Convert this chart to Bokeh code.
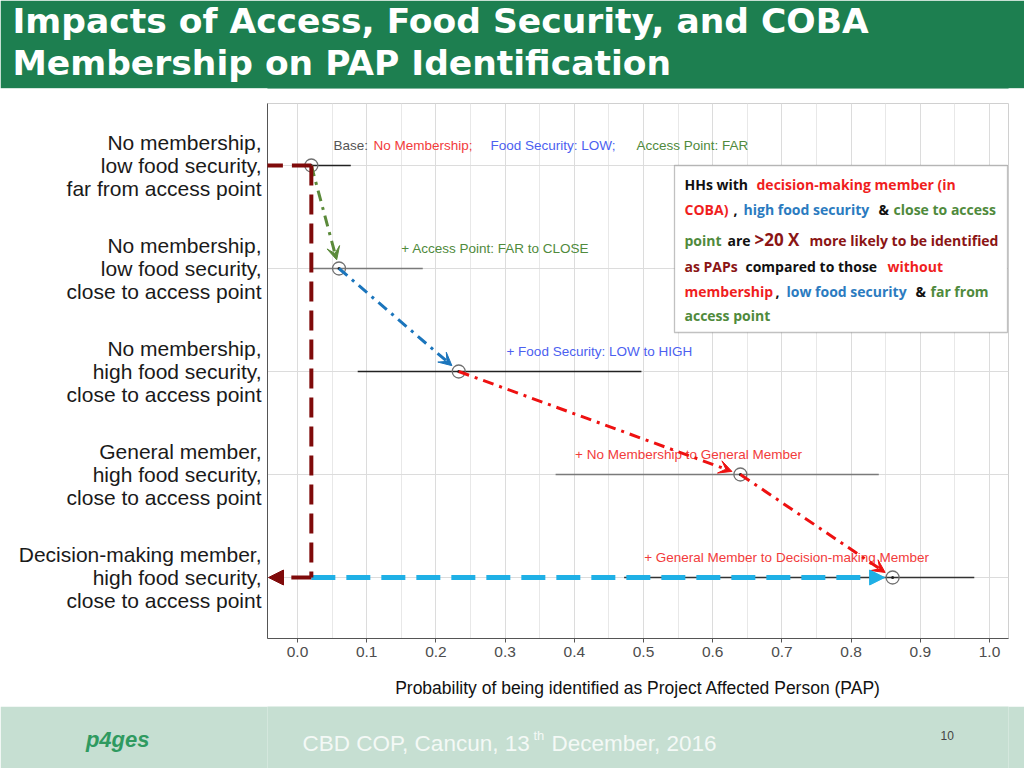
from math import hypot
from bokeh.plotting import figure
from bokeh.layouts import column
from bokeh.models import (Range1d, FixedTicker, Arrow, VeeHead, NormalHead, Title,
                          BoxAnnotation, Label, NumeralTickFormatter)
from bokeh.core.properties import value
from bokeh.embed import file_html
from bokeh.resources import INLINE

# ---------------- data ----------------
categories = [
    "No membership,\nlow food security,\nfar from access point",
    "No membership,\nlow food security,\nclose to access point",
    "No membership,\nhigh food security,\nclose to access point",
    "General member,\nhigh food security,\nclose to access point",
    "Decision-making member,\nhigh food security,\nclose to access point",
]
prob = [0.020, 0.060, 0.233, 0.640, 0.860]
ci_low = [0.000, 0.022, 0.087, 0.373, 0.472]
ci_high = [0.077, 0.181, 0.497, 0.840, 0.978]
ci_colors = ["#222222", "#7a7a7a", "#222222", "#7a7a7a", "#333333"]

step_labels = ["+ Access Point: FAR to CLOSE", "+ Food Security: LOW to HIGH",
               "+ No Membership to General Member",
               "+ General Member to Decision-making Member"]
step_label_x = [0.150, 0.302, 0.401, 0.501]
step_text_colors = ["#4f8a3c", "#4c5ff0", "#f23b3b", "#f23b3b"]
step_arrow_colors = ["#5b8a3a", "#1b75bc", "#ee1111", "#ee1111"]

base_parts = ["Base:", "No Membership;", "Food Security: LOW;", "Access Point: FAR"]
base_colors = ["#555555", "#f23b3b", "#4c5ff0", "#4f8a3c"]

x_ticks = [0.0, 0.1, 0.2, 0.3, 0.4, 0.5, 0.6, 0.7, 0.8, 0.9, 1.0]
x_label = "Probability of being identified as Project Affected Person (PAP)"
base_arrow_left = -0.05

title_lines = ["Impacts of Access, Food Security, and COBA",
               "Membership on PAP Identification"]
footer_text = ["CBD COP, Cancun, 13", "th", "December, 2016"]
page_no = "10"
logo_text = "p4ges"

# ---------------- layout helpers (page pixel -> data) ----------------
W = 1024
BL_, BR_ = 267, 16          # shared left/right borders (frames are aligned in the column)
PX_PER_X = 692.0
PX_PER_Y = 103.0
def X(px):
    return (px - 297.0) / PX_PER_X
def Y(py):
    return 5.0 - (py - 165.0) / PX_PER_Y

n = len(categories)
ypos = [n - i for i in range(n)]

def deco_fig(h, y0, y1, col, yaxis=None):
    fg = figure(width=W, height=h, x_range=Range1d(BL_, W - BR_), y_range=Range1d(y1, y0),
                output_backend="svg", toolbar_location=None,
                min_border_left=BL_, min_border_right=BR_, min_border_top=0, min_border_bottom=0,
                x_axis_location=None, y_axis_location=yaxis,
                background_fill_color=col, border_fill_color=col, outline_line_color=None)
    fg.grid.visible = False
    return fg

# ---------------- title ----------------
GREEN = "#1d7f50"
t = deco_fig(88, 0, 88, GREEN)
t.add_layout(Title(text="\n".join(title_lines), align="left", offset=12 - BL_,
                   vertical_align="top", standoff=8, text_color="white",
                   text_font="DejaVu Sans", text_font_style="bold", text_font_size="34.5px",
                   text_line_height=1.05), "above")

# ---------------- main chart ----------------
p = figure(width=W, height=618,
           x_range=Range1d(X(267), X(1008)), y_range=Range1d(Y(638), Y(103)),
           output_backend="svg", toolbar_location=None,
           min_border_left=BL_, min_border_right=BR_, min_border_top=15, min_border_bottom=68,
           background_fill_color="white", border_fill_color="white")
p.outline_line_color = "#d0d0d0"

xt = FixedTicker(ticks=x_ticks,
                 minor_ticks=[(a + b) / 2 for a, b in zip(x_ticks, x_ticks[1:])])
p.xaxis.ticker = xt
p.xaxis.formatter = NumeralTickFormatter(format="0.0")
p.xaxis.major_label_text_font = "Liberation Sans"
p.xaxis.major_label_text_font_size = "15.5px"
p.xaxis.major_label_text_color = "#4d4d4d"
p.xaxis.major_tick_out = 4
p.xaxis.major_tick_in = 0
p.xaxis.minor_tick_out = 0
p.xaxis.minor_tick_in = 0
p.xaxis.major_tick_line_color = "#555555"
p.xaxis.major_label_standoff = 4
p.xaxis.axis_line_color = "#555555"
p.xaxis.axis_label = x_label
p.xaxis.axis_label_text_font = "Liberation Sans"
p.xaxis.axis_label_text_font_size = "17.5px"
p.xaxis.axis_label_text_font_style = "normal"
p.xaxis.axis_label_text_color = "#111111"
p.xaxis.axis_label_standoff = 18

p.yaxis.ticker = FixedTicker(ticks=ypos)
p.yaxis.major_label_overrides = {y: c for y, c in zip(ypos, categories)}
p.yaxis.major_label_text_font = "Liberation Sans"
p.yaxis.major_label_text_font_size = "21px"
p.yaxis.major_label_text_color = "#1a1a1a"
p.yaxis.major_label_text_line_height = 1.01
p.yaxis.major_tick_out = 0
p.yaxis.major_tick_in = 0
p.yaxis.minor_tick_out = 0
p.yaxis.major_label_standoff = 6
p.yaxis.axis_line_color = "#555555"

p.xgrid.grid_line_color = "#dcdcdc"
p.xgrid.minor_grid_line_color = "#e8e8e8"
p.ygrid.grid_line_color = "#dcdcdc"

# confidence intervals
p.segment(x0=ci_low, x1=ci_high, y0=ypos, y1=ypos, line_color=ci_colors, line_width=1.3)

# base legend text
base_x = [X(333), X(373), X(490), X(636)]
p.text(x=base_x, y=[Y(145)] * 4, text=base_parts, text_color=base_colors,
       text_font=value("Liberation Sans"), text_font_size="13.5px", text_baseline="middle")

# step labels
p.text(x=step_label_x, y=[yy + 0.19 for yy in ypos[1:]], text=step_labels,
       text_color=step_text_colors, text_font=value("Liberation Sans"),
       text_font_size="13.5px", text_baseline="middle")

# points
p.scatter(x=prob, y=ypos, size=13, fill_color=None, line_color="#707070", line_width=1.3)
p.scatter(x=prob, y=ypos, size=3, fill_color="#222222", line_color=None)

def shorten(x0, y0, x1, y1, px):
    dx = (x1 - x0) * PX_PER_X
    dy = (y1 - y0) * PX_PER_Y
    L = hypot(dx, dy)
    f = (L - px) / L
    return x0 + (x1 - x0) * f, y0 + (y1 - y0) * f

# step arrows (dash-dot)
for i in range(n - 1):
    c = step_arrow_colors[i]
    xe, ye = shorten(prob[i], ypos[i], prob[i + 1], ypos[i + 1], 9)
    p.add_layout(Arrow(x_start=prob[i], y_start=ypos[i], x_end=xe, y_end=ye,
                       line_color=c, line_width=3, line_dash="11 6 3 6",
                       end=VeeHead(size=13, fill_color=c, line_color=c, line_width=1)))

# overall comparison (light blue)
LB = "#1fb0e6"
xe, _ = shorten(prob[0], ypos[-1], prob[-1], ypos[-1], 8)
p.add_layout(Arrow(x_start=prob[0], y_start=ypos[-1], x_end=xe, y_end=ypos[-1],
                   line_color=LB, line_width=5, line_dash="24 11",
                   end=NormalHead(size=15, fill_color=LB, line_color=LB)))

# dark red base bracket
DR = "#7f0a0a"
p.add_layout(Arrow(x_start=base_arrow_left, y_start=ypos[0], x_end=prob[0], y_end=ypos[0],
                   line_color=DR, line_width=4, line_dash="20 9", end=None))
p.add_layout(Arrow(x_start=prob[0], y_start=ypos[0], x_end=prob[0], y_end=ypos[-1],
                   line_color=DR, line_width=4, line_dash="20 9", end=None))
p.add_layout(Arrow(x_start=prob[0], y_start=ypos[-1], x_end=X(268), y_end=ypos[-1],
                   line_color=DR, line_width=4, line_dash="20 9",
                   end=NormalHead(size=15, fill_color=DR, line_color=DR)))

# text box
p.add_layout(BoxAnnotation(left=X(674), right=X(1007), top=Y(165), bottom=Y(332),
                           fill_color="white", fill_alpha=1.0,
                           line_color="#333333", line_width=1.3))

BK, RD, BL, GN, DK = "#111111", "#f01e1e", "#2b7bc0", "#4f8a3c", "#8b1515"
box_text = [
    ("HHs with", 684, 184, BK), ("decision-making member (in", 756, 184, RD),
    ("COBA)", 684, 209, RD), (",", 733, 209, BK), ("high food security", 743, 209, BL),
    ("&", 878, 209, BK), ("close to access", 893, 209, GN),
    ("point", 684, 240, GN), ("are", 727, 240, BK),
    ("more likely to be identified", 809, 240, DK),
    ("as PAPs", 684, 266, DK), ("compared to those", 745, 266, BK), ("without", 887, 266, RD),
    ("membership", 684, 291, RD), (",", 775, 291, BK), ("low food security", 786, 291, BL),
    ("&", 915, 291, BK), ("far from", 930, 291, GN),
    ("access point", 684, 315, GN),
]
for txt, px, py, col in box_text:
    p.add_layout(Label(x=X(px), y=Y(py), text=txt, text_color=col, text_font="Open Sans",
                       text_font_style="bold", text_font_size="14px", text_baseline="middle"))
p.add_layout(Label(x=X(754), y=Y(239), text=">20 X", text_color=DK, text_font="Open Sans",
                   text_font_style="bold", text_font_size="17px", text_baseline="middle"))

# ---------------- footer ----------------
FG = "#c6dfd2"
f = deco_fig(62, 706, 768, FG, yaxis="left")
FT = "#f4f9f6"
f.add_layout(Label(x=302, y=743, text=footer_text[0], text_color=FT,
                   text_font="Liberation Sans", text_font_size="22.5px", text_baseline="alphabetic"))
f.add_layout(Label(x=533, y=735, text=footer_text[1], text_color=FT,
                   text_font="Liberation Sans", text_font_size="13px", text_baseline="alphabetic"))
f.add_layout(Label(x=551, y=743, text=footer_text[2], text_color=FT,
                   text_font="Liberation Sans", text_font_size="22.5px", text_baseline="alphabetic"))
f.add_layout(Label(x=940, y=735, text=page_no, text_color="#444444",
                   text_font="Liberation Sans", text_font_size="12px", text_baseline="middle"))

# logo word in the left border (via the axis label)
f.yaxis.ticker = FixedTicker(ticks=[739])
f.yaxis.major_label_overrides = {739: logo_text}
f.yaxis.major_label_text_font = "Liberation Sans"
f.yaxis.major_label_text_font_style = "bold italic"
f.yaxis.major_label_text_font_size = "22px"
f.yaxis.major_label_text_color = "#2f9a60"
f.yaxis.major_label_standoff = 112
f.yaxis.axis_line_color = None
f.yaxis.major_tick_line_color = None
f.yaxis.minor_tick_line_color = None

layout = column(t, p, f, spacing=0)
open("out.html", "w").write(file_html(layout, INLINE))
